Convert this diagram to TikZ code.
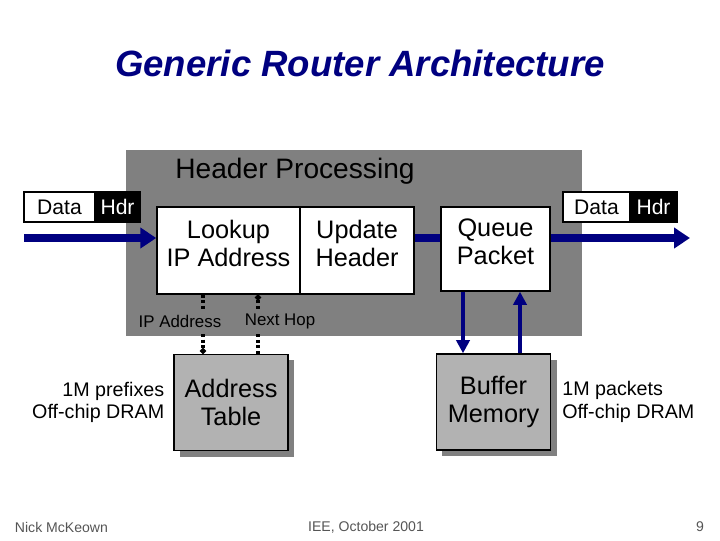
\documentclass[tikz,border=0pt]{standalone}
\usepackage{fontspec}
\setmainfont{Liberation Sans}
\usetikzlibrary{arrows.meta, shadows, positioning}
\definecolor{SlideNavy}{HTML}{000080}
\definecolor{PanelGray}{HTML}{808080}
\definecolor{ChipGray}{HTML}{B2B2B2}
\definecolor{FootGray}{HTML}{555555}

\begin{document}
\begin{tikzpicture}[x=0.025cm, y=-0.025cm,
  box/.style={draw=black, line width=1pt, fill=white, align=center, inner sep=0pt,
    font=\fontsize{18pt}{20pt}\selectfont},
  boxtext/.style={align=center, inner sep=0pt, font=\fontsize{18pt}{20pt}\selectfont},
  chip/.style={box, fill=ChipGray, minimum width=2.85cm, minimum height=2.4cm,
    drop shadow={shadow xshift=0.15cm, shadow yshift=-0.15cm, fill=PanelGray, opacity=1}},
  tag/.style={draw=black, line width=0.8pt, minimum height=0.75cm, inner sep=0pt,
    font=\fontsize{15pt}{15pt}\selectfont},
  flow/.style={SlideNavy, line width=5pt},
  lane/.style={SlideNavy, line width=2.8pt, -{Triangle[length=0.33cm, width=0.33cm]}},
  probe/.style={black, line width=2.5pt, dash pattern=on 2pt off 2pt, -{Circle[length=4pt]}},
  note/.style={font=\fontsize{12pt}{12pt}\selectfont, inner xsep=1pt, inner ysep=3.5pt},
  side/.style={font=\fontsize{14pt}{16pt}\selectfont, inner sep=0pt}]
  \useasboundingbox (0,0) rectangle (720,540);

  % title
  \node[font=\bfseries\itshape\fontsize{26pt}{26pt}\selectfont, text=SlideNavy] (title) at (360,63)
    {Generic Router Architecture};

  % header processing block
  \fill[PanelGray] (126,150) rectangle (582,336);
  \node[font=\fontsize{20pt}{20pt}\selectfont] (hdrproc) at (295,171) {Header Processing};
  \node[box, minimum width=3.575cm, minimum height=2.175cm] (lookup) at (228.5,250.5) {};
  \node[box, minimum width=2.85cm, minimum height=2.175cm, right=-1pt of lookup] (update) {};
  \node[box, minimum width=2.725cm, minimum height=2.1cm] (queue) at (495.5,249) {};
  \foreach \b/\t in {lookup/Lookup\\IP Address, update/Update\\Header, queue/Queue\\Packet}{
    \node[boxtext] (\b text) at ([yshift=5pt]\b.center) {\t};
  }

  % packets in and out
  \foreach \n/\x/\dw/\hw in {in/59.5/1.775/1.125, out/596.5/1.675/1.175}{
    \node[tag, fill=white, minimum width=\dw cm] (\n data) at (\x,207) {Data};
    \node[tag, fill=black, text=white, minimum width=\hw cm, right=-0.8pt of \n data] (\n hdr) {Hdr};
  }
  \coordinate (src) at (24,238);
  \coordinate (dst) at (690,238);
  \draw[flow, -{Triangle[length=0.4cm, width=0.5cm]}] (src) -- (src -| lookup.west);
  \draw[flow] (update.east |- src) -- (queue.west |- src);
  \draw[flow, -{Triangle[length=0.4cm, width=0.5cm]}] (queue.east |- src) -- (dst);

  % off-chip memories
  \node[chip] (addr) at (231,402.5) {Address\\Table};
  \node[chip] (buffer) at (493.5,402) {Buffer\\Memory};
  \node[side, align=right, left=0.22cm of addr] (prefixnote) {1M prefixes\\Off-chip DRAM};
  \node[side, align=left, right=0.27cm of buffer] (packetnote) {1M packets\\Off-chip DRAM};

  % lookups
  \coordinate (ipx) at (203,0);
  \coordinate (hopx) at (258,0);
  \draw[probe] (lookup.south -| ipx) -- (addr.north -| ipx);
  \draw[probe] (addr.north -| hopx) -- (lookup.south -| hopx);
  \node[note, fill=PanelGray] (iplabel) at (180,321) {IP Address};
  \node[note, fill=PanelGray] (hoplabel) at (280,321) {Next Hop};

  % buffer traffic
  \coordinate (wrx) at (463,0);
  \coordinate (rdx) at (520,0);
  \draw[lane] (queue.south -| wrx) -- (buffer.north -| wrx);
  \draw[lane] (buffer.north -| rdx) -- (queue.south -| rdx);

  % footer
  \node[font=\fontsize{10pt}{10pt}\selectfont, text=FootGray, anchor=west] (author) at (10,527) {Nick McKeown};
  \node[font=\fontsize{10pt}{10pt}\selectfont, text=FootGray] (venue) at (366,527) {IEE, October 2001};
  \node[font=\fontsize{10pt}{10pt}\selectfont, text=FootGray, anchor=east] (page) at (709,527) {9};
\end{tikzpicture}
\end{document}
